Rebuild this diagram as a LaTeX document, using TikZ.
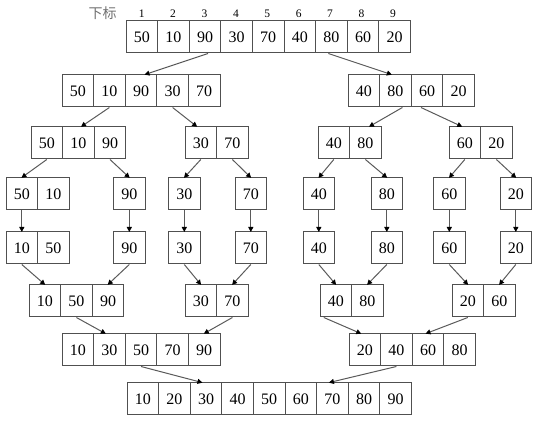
\documentclass[tikz,border=0pt]{standalone}
\usepackage{fontspec}
\setmainfont{Liberation Serif}
\newfontfamily\cjk{Noto Sans CJK SC}
\usetikzlibrary{arrows.meta}

\definecolor{boxline}{HTML}{505050}
\definecolor{arrline}{HTML}{5A5A5A}
\definecolor{labelgray}{HTML}{707070}

\tikzset{
  cell/.style={draw=boxline, line width=1pt, minimum width=31.6pt, minimum height=32pt,
    inner sep=0pt, anchor=center, font=\fontsize{16}{18}\selectfont},
  idx/.style={font=\fontsize{11.5}{13}\selectfont, inner sep=0pt},
  arr/.style={draw=arrline, line width=1pt,
    -{Triangle[length=5pt,width=5pt,color=black]}, shorten >=-0.5pt},
}

% one row of cells: name, left x, top y, values
\newcommand\cellrow[4]{%
  \foreach \v [count=\i] in {#4} {
    \node[cell] (#1-\i) at ({#2+(\i-0.5)*31.6}, {#3+16}) {\v};
  }%
}

\begin{document}
\begin{tikzpicture}[x=1pt, y=-1pt]
\useasboundingbox (0,0) rectangle (544,438);

% index labels
\node[font=\cjk\fontsize{14}{15}\selectfont, text=labelgray, inner sep=0pt] (lbl) at (102.5,13.5) {下标};
\foreach \k in {1,...,9} {
  \node[idx] (ix\k) at ({126+(\k-0.5)*31.4}, 13.5) {\k};
}

% split phase
\cellrow{r0}{126}{21}{50,10,90,30,70,40,80,60,20}
\cellrow{r1a}{62}{75}{50,10,90,30,70}
\cellrow{r1b}{348}{75}{40,80,60,20}
\cellrow{r2a}{31}{127}{50,10,90}
\cellrow{r2b}{185}{127}{30,70}
\cellrow{r2c}{318}{127}{40,80}
\cellrow{r2d}{449}{127}{60,20}
\cellrow{r3a}{6}{178}{50,10}
\cellrow{r3b}{113.5}{178}{90}
\cellrow{r3c}{168.5}{178}{30}
\cellrow{r3d}{235}{178}{70}
\cellrow{r3e}{303}{178}{40}
\cellrow{r3f}{371}{178}{80}
\cellrow{r3g}{433.5}{178}{60}
\cellrow{r3h}{500}{178}{20}

% merge phase
\cellrow{r4a}{6}{232}{10,50}
\cellrow{r4b}{113.5}{232}{90}
\cellrow{r4c}{168.5}{232}{30}
\cellrow{r4d}{235}{232}{70}
\cellrow{r4e}{303}{232}{40}
\cellrow{r4f}{371}{232}{80}
\cellrow{r4g}{433.5}{232}{60}
\cellrow{r4h}{500}{232}{20}
\cellrow{r5a}{29}{285}{10,50,90}
\cellrow{r5b}{185}{285}{30,70}
\cellrow{r5c}{320}{285}{40,80}
\cellrow{r5d}{452}{285}{20,60}
\cellrow{r6a}{62}{334}{10,30,50,70,90}
\cellrow{r6b}{349}{334}{20,40,60,80}
\cellrow{r7}{127}{383}{10,20,30,40,50,60,70,80,90}

% split arrows
\draw[arr] ([xshift=3pt]r0-3.south) -- ([xshift=4pt]r1a-3.north);
\draw[arr] ([xshift=-3pt]r0-7.south) -- ([xshift=-4pt]r1b-2.north);
\draw[arr] (r1a-2.south) -- ([xshift=3pt]r2a-2.north);
\draw[arr] (r1a-4.south) -- ([xshift=-4pt]r2b-1.north);
\draw[arr] ([xshift=7pt]r1b-2.south) -- ([xshift=4pt]r2c-2.north);
\draw[arr] ([xshift=-6pt]r1b-3.south) -- ([xshift=-3pt]r2d-1.north);
\draw[arr] (r2a-1.south) -- (r3a-1.north);
\draw[arr] (r2a-3.south) -- (r3b-1.north);
\draw[arr] (r2b-1.south) -- (r3c-1.north);
\draw[arr] (r2b-2.south) -- (r3d-1.north);
\draw[arr] (r2c-1.south) -- (r3e-1.north);
\draw[arr] (r2c-2.south) -- (r3f-1.north);
\draw[arr] (r2d-1.south) -- (r3g-1.north);
\draw[arr] (r2d-2.south) -- (r3h-1.north);

% sort the single pairs
\foreach \s in {a,...,h} {
  \draw[arr] (r3\s-1.south) -- (r4\s-1.north);
}

% merge arrows
\draw[arr] (r4a-1.south) -- (r5a-1.north);
\draw[arr] (r4b-1.south) -- (r5a-3.north);
\draw[arr] (r4c-1.south) -- (r5b-1.north);
\draw[arr] (r4d-1.south) -- (r5b-2.north);
\draw[arr] (r4e-1.south) -- (r5c-1.north);
\draw[arr] (r4f-1.south) -- (r5c-2.north);
\draw[arr] (r4g-1.south) -- (r5d-1.north);
\draw[arr] (r4h-1.south) -- (r5d-2.north);
\draw[arr] (r5a-2.south) -- ([xshift=-4pt]r6a-2.north);
\draw[arr] (r5b-2.south) -- (r6a-5.north);
\draw[arr] ([xshift=-12pt]r5c-1.south) -- ([xshift=-4pt]r6b-1.north);
\draw[arr] (r5d-1.south) -- ([xshift=-2pt]r6b-3.north);
\draw[arr] (r6a-3.south) -- ([xshift=-4pt]r7-3.north);
\draw[arr] (r6b-2.south) -- ([xshift=-3pt]r7-7.north);
\end{tikzpicture}
\end{document}
